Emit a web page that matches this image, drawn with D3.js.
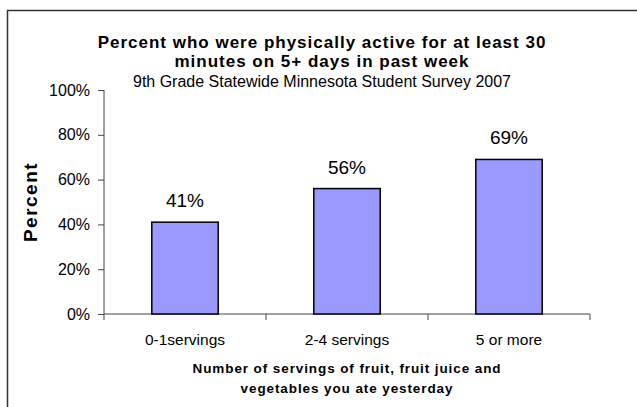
<!DOCTYPE html>
<html>
<head>
<meta charset="utf-8">
<script src="https://cdn.jsdelivr.net/npm/d3@7"></script>
<style>
  body { margin: 0; background: #fff; }
  svg { display: block; font-family: "Liberation Sans", Arial, sans-serif; }
</style>
</head>
<body>
<div id="chart"></div>
<script>
var categories = ['0-1servings', '2-4 servings', '5 or more'];
var values = [41, 56, 69];
var yTicks = [0, 20, 40, 60, 80, 100];
var titleLines = ['Percent who were physically active for at least 30', 'minutes on 5+ days in past week'];
var subtitle = '9th Grade Statewide Minnesota Student Survey 2007';
var xTitleLines = ['Number of servings of fruit, fruit juice and', 'vegetables you ate yesterday'];
var yTitle = 'Percent';

var width = 637, height = 407;
var margin = {top: 90, right: 47, bottom: 93, left: 104};
var innerW = width - margin.left - margin.right;
var innerH = height - margin.top - margin.bottom;

var svg = d3.select('#chart').append('svg')
  .attr('width', width)
  .attr('height', height);

// outer frame (runs off right and bottom edges)
svg.append('rect')
  .attr('x', 7.5).attr('y', 10.5)
  .attr('width', 700).attr('height', 500)
  .attr('fill', 'none')
  .attr('stroke', '#333')
  .attr('stroke-width', 1.5);

var g = svg.append('g')
  .attr('transform', 'translate(' + margin.left + ',' + margin.top + ')');

var pad = 0.59;
var x = d3.scaleBand()
  .domain(categories)
  .range([0, innerW])
  .paddingInner(pad)
  .paddingOuter(pad / 2);

var y = d3.scaleLinear()
  .domain([0, 100])
  .range([innerH, 0]);

// y axis
var yAxis = g.append('g')
  .call(d3.axisLeft(y)
    .tickValues(yTicks)
    .tickSize(6)
    .tickPadding(8)
    .tickFormat(function(d) { return d + '%'; }));
yAxis.select('.domain').attr('stroke', '#444').attr('d', 'M0,0V' + innerH);
yAxis.selectAll('.tick line').attr('stroke', '#444');
yAxis.selectAll('.tick text')
  .attr('font-size', 16)
  .attr('fill', '#000')
  .attr('font-family', '"Liberation Sans", Arial, sans-serif');

// x axis
var xAxis = g.append('g')
  .attr('transform', 'translate(0,' + innerH + ')')
  .call(d3.axisBottom(x).tickSize(0).tickPadding(20));
xAxis.select('.domain').attr('stroke', '#444').attr('d', 'M0,0H' + innerW);
xAxis.selectAll('.tick text')
  .attr('font-size', 15.5)
  .attr('fill', '#000')
  .attr('font-family', '"Liberation Sans", Arial, sans-serif');

// category boundary ticks
var bounds = d3.range(categories.length + 1).map(function(i) { return i * x.step(); });
xAxis.selectAll('.bound')
  .data(bounds)
  .enter().append('line')
  .attr('class', 'bound')
  .attr('x1', function(d) { return d; })
  .attr('x2', function(d) { return d; })
  .attr('y1', 0)
  .attr('y2', 6)
  .attr('stroke', '#444');

// bars
g.selectAll('.bar')
  .data(values)
  .enter().append('rect')
  .attr('class', 'bar')
  .attr('x', function(d, i) { return x(categories[i]); })
  .attr('y', function(d) { return y(d); })
  .attr('width', x.bandwidth())
  .attr('height', function(d) { return innerH - y(d); })
  .attr('fill', '#9999ff')
  .attr('stroke', '#000')
  .attr('stroke-width', 1.5);

// value labels
g.selectAll('.val')
  .data(values)
  .enter().append('text')
  .attr('class', 'val')
  .attr('x', function(d, i) { return x(categories[i]) + x.bandwidth() / 2; })
  .attr('y', function(d) { return y(d) - 15; })
  .attr('text-anchor', 'middle')
  .attr('font-size', 19)
  .text(function(d) { return d + '%'; });

// titles
var cx = 322;
svg.selectAll('.title')
  .data(titleLines)
  .enter().append('text')
  .attr('class', 'title')
  .attr('x', cx)
  .attr('y', function(d, i) { return 48 + i * 19; })
  .attr('text-anchor', 'middle')
  .attr('font-size', 17)
  .attr('font-weight', 'bold')
  .attr('letter-spacing', 1)
  .text(function(d) { return d; });

svg.append('text')
  .attr('x', cx)
  .attr('y', 87)
  .attr('text-anchor', 'middle')
  .attr('font-size', 16)
  .attr('letter-spacing', 0)
  .text(subtitle);

var xc = margin.left + innerW / 2;
svg.selectAll('.xtitle')
  .data(xTitleLines)
  .enter().append('text')
  .attr('class', 'xtitle')
  .attr('x', xc)
  .attr('y', function(d, i) { return 373 + i * 20; })
  .attr('text-anchor', 'middle')
  .attr('font-size', 13.5)
  .attr('font-weight', 'bold')
  .attr('letter-spacing', 0.9)
  .text(function(d) { return d; });

svg.append('text')
  .attr('transform', 'translate(37,202) rotate(-90)')
  .attr('text-anchor', 'middle')
  .attr('font-size', 19)
  .attr('font-weight', 'bold')
  .attr('letter-spacing', 1.5)
  .text(yTitle);
</script>
</body>
</html>
